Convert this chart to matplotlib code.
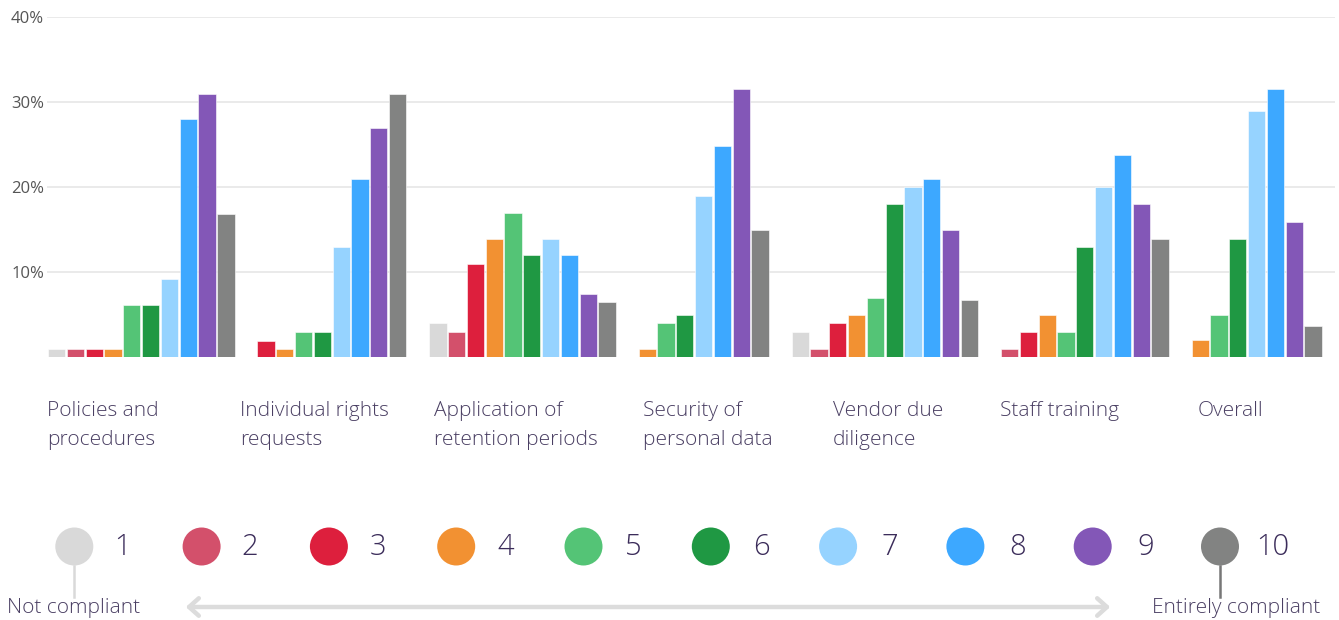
"""
Compliance self-assessment scores (1-10) by area
"""

import matplotlib
matplotlib.use("Agg")
import matplotlib.pyplot as plt
from matplotlib.patches import Circle, FancyArrowPatch

# Données
categories = [
    "Policies and\nprocedures",
    "Individual rights\nrequests",
    "Application of\nretention periods",
    "Security of\npersonal data",
    "Vendor due\ndiligence",
    "Staff training",
    "Overall",
]
scores = ["1", "2", "3", "4", "5", "6", "7", "8", "9", "10"]

# pourcentages par score 1..10 (None = pas de barre)
policies = [1, 1, 1, 1, 6.1, 6.1, 9.2, 28, 31, 16.8]
individual = [None, None, 1.9, 1, 3, 3, 13, 21, 27, 31]
retention = [4, 3, 11, 13.9, 17, 12, 13.9, 12, 7.4, 6.5]
security = [None, None, None, 1, 4, 5, 19, 24.8, 31.5, 15]
vendor = [3, 1, 4, 5, 7, 18, 20, 21, 15, 6.7]
staff = [None, 1, 3, 5, 3, 13, 20, 23.8, 18, 13.9]
overall = [None, None, None, 2, 5, 13.9, 29, 31.5, 15.9, 3.7]
series = [policies, individual, retention, security, vendor, staff, overall]

yticks = [10, 20, 30, 40]

colors = ["#d9d9d9", "#d3506b", "#dd1f3d", "#f29132", "#54c476",
          "#1f9843", "#96d3ff", "#3da8ff", "#8357b7", "#828382"]

# Mise en page (pixels)
W, H = 1339, 620
x0_px, x1_px = 47, 1335
y0_px, y40_px = 357, 17
bar_step, bar_w, group_gap = 18.8, 17.3, 21.4
label_x = [47, 240, 434, 643, 833, 1000, 1198]
txt_col = "#4a3f63"
num_col = "#3b2c5a"
font = ["Open Sans", "DejaVu Sans"]

plt.rcParams["font.family"] = font

fig = plt.figure(figsize=(W / 100, H / 100), dpi=100)
ax = fig.add_axes([x0_px / W, 1 - y0_px / H,
                   (x1_px - x0_px) / W, (y0_px - y40_px) / H])

# Barres
k = 0
for g, vals in enumerate(series):
    for i, v in enumerate(vals):
        if v is None:
            continue
        left = 48 + k * bar_step + g * group_gap
        ax.bar(left, v, width=bar_w, align="edge", color=colors[i],
               edgecolor="white", linewidth=0.4, zorder=3)
        k += 1

ax.set_xlim(x0_px, x1_px)
ax.set_ylim(0, 40)
ax.set_yticks(yticks)
ax.set_yticklabels([f"{v}%" for v in yticks], fontsize=12,
                   color="#555555")
ax.tick_params(axis="y", length=0, pad=2)
ax.set_xticks([])
ax.yaxis.grid(True, color="#e8e8e8", linewidth=1.3, zorder=0)
for s in ax.spines.values():
    s.set_visible(False)

# Calque en pixels pour les textes et la légende
lax = fig.add_axes([0, 0, 1, 1])
lax.set_xlim(0, W)
lax.set_ylim(H, 0)
lax.axis("off")
lax.patch.set_visible(False)

for x, lab in zip(label_x, categories):
    for j, line in enumerate(lab.split("\n")):
        lax.text(x, 416 + j * 28.5, line, fontsize=15, color=txt_col,
                 fontweight="light", va="baseline", ha="left")

# Légende
cy = 546.5
for i, s in enumerate(scores):
    cx = 74.3 + i * 127.3
    lax.add_patch(Circle((cx, cy), 19, color=colors[i], lw=0))
    lax.text(122 + i * 127.9, cy + 1, s, fontsize=21, color=num_col,
             fontweight="light", ha="center", va="center")

lax.plot([74.3, 74.3], [566, 597], color=colors[0], lw=1.8)
lax.plot([1220, 1220], [566, 597], color="#777777", lw=1.8)
lax.text(74, 608, "Not compliant", fontsize=15, color=txt_col,
         fontweight="light", ha="center", va="center")
lax.text(1236, 608, "Entirely compliant", fontsize=15, color=txt_col,
         fontweight="light", ha="center", va="center")

arr = FancyArrowPatch((183, 607), (1113, 607),
                      arrowstyle="<->,head_length=0.5,head_width=0.45",
                      mutation_scale=14, color="#dcdcdc", lw=3.2,
                      capstyle="round", joinstyle="round")
lax.add_patch(arr)

fig.savefig("out.png", dpi=100, facecolor="white")
